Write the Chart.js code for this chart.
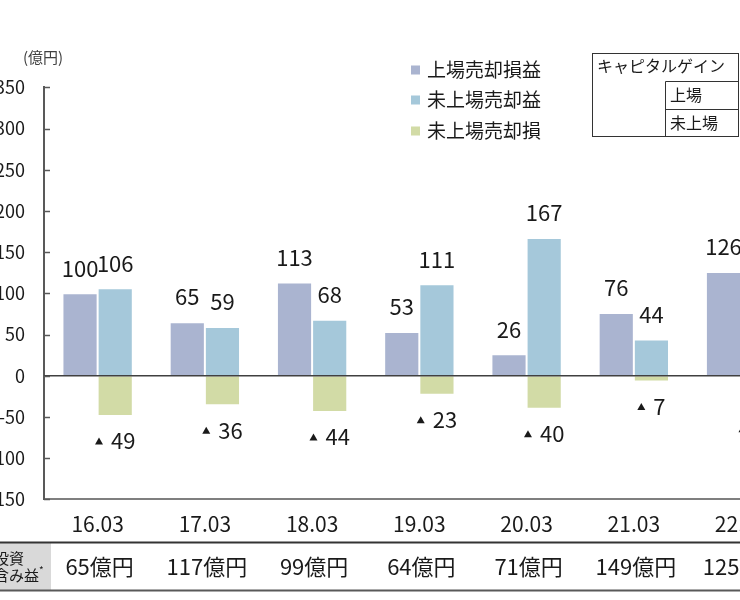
<!DOCTYPE html>
<html lang="ja">
<head>
<meta charset="utf-8">
<title>キャピタルゲイン推移</title>
<script src="https://cdn.jsdelivr.net/npm/chart.js@4.4.1/dist/chart.umd.min.js"></script>
<style>
  html, body { margin: 0; padding: 0; background: #fff; width: 740px; height: 600px; overflow: hidden; }
  #wrap { position: absolute; left: -40px; top: 0; width: 850px; height: 600px; }
</style>
</head>
<body>
<div id="wrap"><canvas id="gainChart" width="850" height="600"></canvas></div>
<script>
'use strict';

// --- data (億円) ---
var periods = ['16.03', '17.03', '18.03', '19.03', '20.03', '21.03', '22.03'];
var listedGainLoss = [100, 65, 113, 53, 26, 76, 126];
var unlistedGain = [106, 59, 68, 111, 167, 44, null];
var unlistedLoss = [-49, -36, -44, -23, -40, -7, -34];
var unrealizedGain = [65, 117, 99, 64, 71, 149, 125];
var yTickValues = [-150, -100, -50, 0, 50, 100, 150, 200, 250, 300, 350];

var seriesNames = ['上場売却損益', '未上場売却益', '未上場売却損'];
var seriesColors = ['#aab4d0', '#a5c8da', '#d2dba6'];

var FONT = '"Noto Sans CJK JP", "Noto Sans", sans-serif';
var INK = '#1a1a1a';
// canvas sits 40px left of the page edge, so the page x of anything = canvas x - 40
var SHIFT = 40;

/**
 * Draw a text with a small raised asterisk after it
 */
function noteText(ctx, text, x, y) {
    ctx.fillText(text, x, y);
    var w = ctx.measureText(text).width;
    ctx.save();
    ctx.font = '10px ' + FONT;
    ctx.fillText('*', x + w, y - 5);
    ctx.restore();
}

/**
 * Zero line, inner tick marks and value labels on the bars
 */
var valueLabels = {
    id: 'valueLabels',
    afterDatasetsDraw: function(chart) {
        var ctx = chart.ctx;
        var area = chart.chartArea;
        var y = chart.scales.y;
        var zero = y.getPixelForValue(0);

        ctx.save();
        ctx.strokeStyle = '#404040';
        ctx.lineWidth = 1.5;
        ctx.beginPath();
        ctx.moveTo(area.left, zero);
        ctx.lineTo(area.right, zero);
        ctx.stroke();

        // tick marks point into the plot
        ctx.strokeStyle = '#595959';
        y.ticks.forEach(function(t) {
            var py = Math.round(y.getPixelForValue(t.value)) + 0.5;
            ctx.beginPath();
            ctx.moveTo(area.left, py);
            ctx.lineTo(area.left + 6, py);
            ctx.stroke();
        });

        ctx.fillStyle = INK;
        ctx.textBaseline = 'middle';
        chart.data.datasets.forEach(function(ds, di) {
            var meta = chart.getDatasetMeta(di);
            meta.data.forEach(function(bar, i) {
                var v = ds.data[i];
                if (v === null || v === undefined) {
                    return;
                }
                ctx.font = '22px ' + FONT;
                if (v >= 0) {
                    ctx.textAlign = 'center';
                    ctx.fillText(String(v), bar.x, bar.y - 25);
                } else {
                    var txt = String(-v);
                    var w = ctx.measureText(txt).width;
                    var cy = bar.y + 25;
                    var left = bar.x - (16 + w) / 2;
                    ctx.beginPath();
                    ctx.moveTo(left, cy + 3.5);
                    ctx.lineTo(left + 8, cy + 3.5);
                    ctx.lineTo(left + 4, cy - 3.5);
                    ctx.closePath();
                    ctx.fill();
                    ctx.textAlign = 'left';
                    ctx.fillText(txt, left + 16, cy);
                }
            });
        });
        ctx.restore();
    }
};

/**
 * Unit label, legend, capital gain box and the unrealised gain row
 */
var extras = {
    id: 'extras',
    afterDraw: function(chart) {
        var ctx = chart.ctx;
        var x = chart.scales.x;
        ctx.save();
        ctx.textBaseline = 'middle';
        ctx.textAlign = 'left';

        // unit
        ctx.fillStyle = '#404040';
        ctx.font = '15px ' + FONT;
        ctx.fillText('(億円)', 23 + SHIFT, 57);

        // legend
        var legendY = [70, 100, 131];
        ctx.font = '19px ' + FONT;
        seriesNames.forEach(function(name, i) {
            ctx.fillStyle = seriesColors[i];
            ctx.fillRect(411 + SHIFT, legendY[i] - 4.5, 9, 9);
            ctx.fillStyle = INK;
            ctx.fillText(name, 427 + SHIFT, legendY[i]);
        });

        // capital gain box
        var bl = 592.5 + SHIFT, br = 738.5 + SHIFT, bt = 53.5, bb = 136.5, bm = 665.5 + SHIFT;
        ctx.strokeStyle = '#333';
        ctx.lineWidth = 1;
        ctx.strokeRect(bl, bt, br - bl, bb - bt);
        ctx.beginPath();
        ctx.moveTo(bm, 81.5); ctx.lineTo(bm, bb);
        ctx.moveTo(bm, 81.5); ctx.lineTo(br, 81.5);
        ctx.moveTo(bm, 109.5); ctx.lineTo(br, 109.5);
        ctx.stroke();
        ctx.fillStyle = INK;
        ctx.font = '16px ' + FONT;
        ctx.fillText('キャピタルゲイン', 597 + SHIFT, 66);
        ctx.fillText('上場', 670 + SHIFT, 95);
        ctx.fillText('未上場', 670 + SHIFT, 123);

        // unrealised gain row
        var top = 542.5, bottom = 590.5;
        ctx.fillStyle = '#d9d9d9';
        ctx.fillRect(0, top, 51 + SHIFT, bottom - top);
        ctx.strokeStyle = '#333';
        ctx.lineWidth = 2;
        ctx.beginPath();
        ctx.moveTo(0, top); ctx.lineTo(chart.width, top);
        ctx.stroke();
        ctx.strokeStyle = '#595959';
        ctx.beginPath();
        ctx.moveTo(0, bottom); ctx.lineTo(chart.width, bottom);
        ctx.stroke();

        ctx.fillStyle = INK;
        ctx.font = '15px ' + FONT;
        ctx.fillText('投資', -6 + SHIFT, 558);
        noteText(ctx, '含み益', -6 + SHIFT, 575);

        ctx.textAlign = 'center';
        ctx.font = '22px ' + FONT;
        unrealizedGain.forEach(function(v, i) {
            ctx.fillText(v + '億円', x.getPixelForValue(i) + 2, 567);
        });
        ctx.restore();
    }
};

var chart = new Chart(document.getElementById('gainChart'), {
    type: 'bar',
    data: {
        labels: periods,
        datasets: [{
            label: seriesNames[0],
            data: listedGainLoss,
            backgroundColor: seriesColors[0],
            stack: 'listed'
        }, {
            label: seriesNames[1],
            data: unlistedGain,
            backgroundColor: seriesColors[1],
            stack: 'unlisted'
        }, {
            label: seriesNames[2],
            data: unlistedLoss,
            backgroundColor: seriesColors[2],
            stack: 'unlisted'
        }]
    },
    options: {
        responsive: false,
        animation: false,
        datasets: {
            bar: {
                borderWidth: 1,
                borderColor: 'rgba(255,255,255,0.85)',
                categoryPercentage: 0.656,
                barPercentage: 1
            }
        },
        layout: {
            padding: { top: 87.3, right: 15.3, bottom: 0, left: 0 }
        },
        plugins: {
            legend: { display: false },
            tooltip: { enabled: false }
        },
        scales: {
            x: {
                stacked: true,
                grid: { display: false, drawTicks: false },
                border: { display: true, color: '#7f7f7f', width: 2 },
                ticks: {
                    color: INK,
                    font: { family: FONT, size: 21 },
                    padding: 12,
                    maxRotation: 0,
                    autoSkip: false
                },
                afterFit: function(scale) {
                    scale.height = 100.7;
                }
            },
            y: {
                stacked: true,
                min: yTickValues[0],
                max: yTickValues[yTickValues.length - 1],
                afterBuildTicks: function(scale) {
                    scale.ticks = yTickValues.map(function(v) { return { value: v }; });
                },
                grid: { drawOnChartArea: false, drawTicks: false },
                border: { display: true, color: '#595959', width: 2 },
                ticks: {
                    color: INK,
                    font: { family: FONT, size: 18 },
                    padding: 19
                },
                afterFit: function(scale) {
                    scale.width = 44 + SHIFT;
                }
            }
        }
    },
    plugins: [valueLabels, extras]
});
</script>
</body>
</html>
